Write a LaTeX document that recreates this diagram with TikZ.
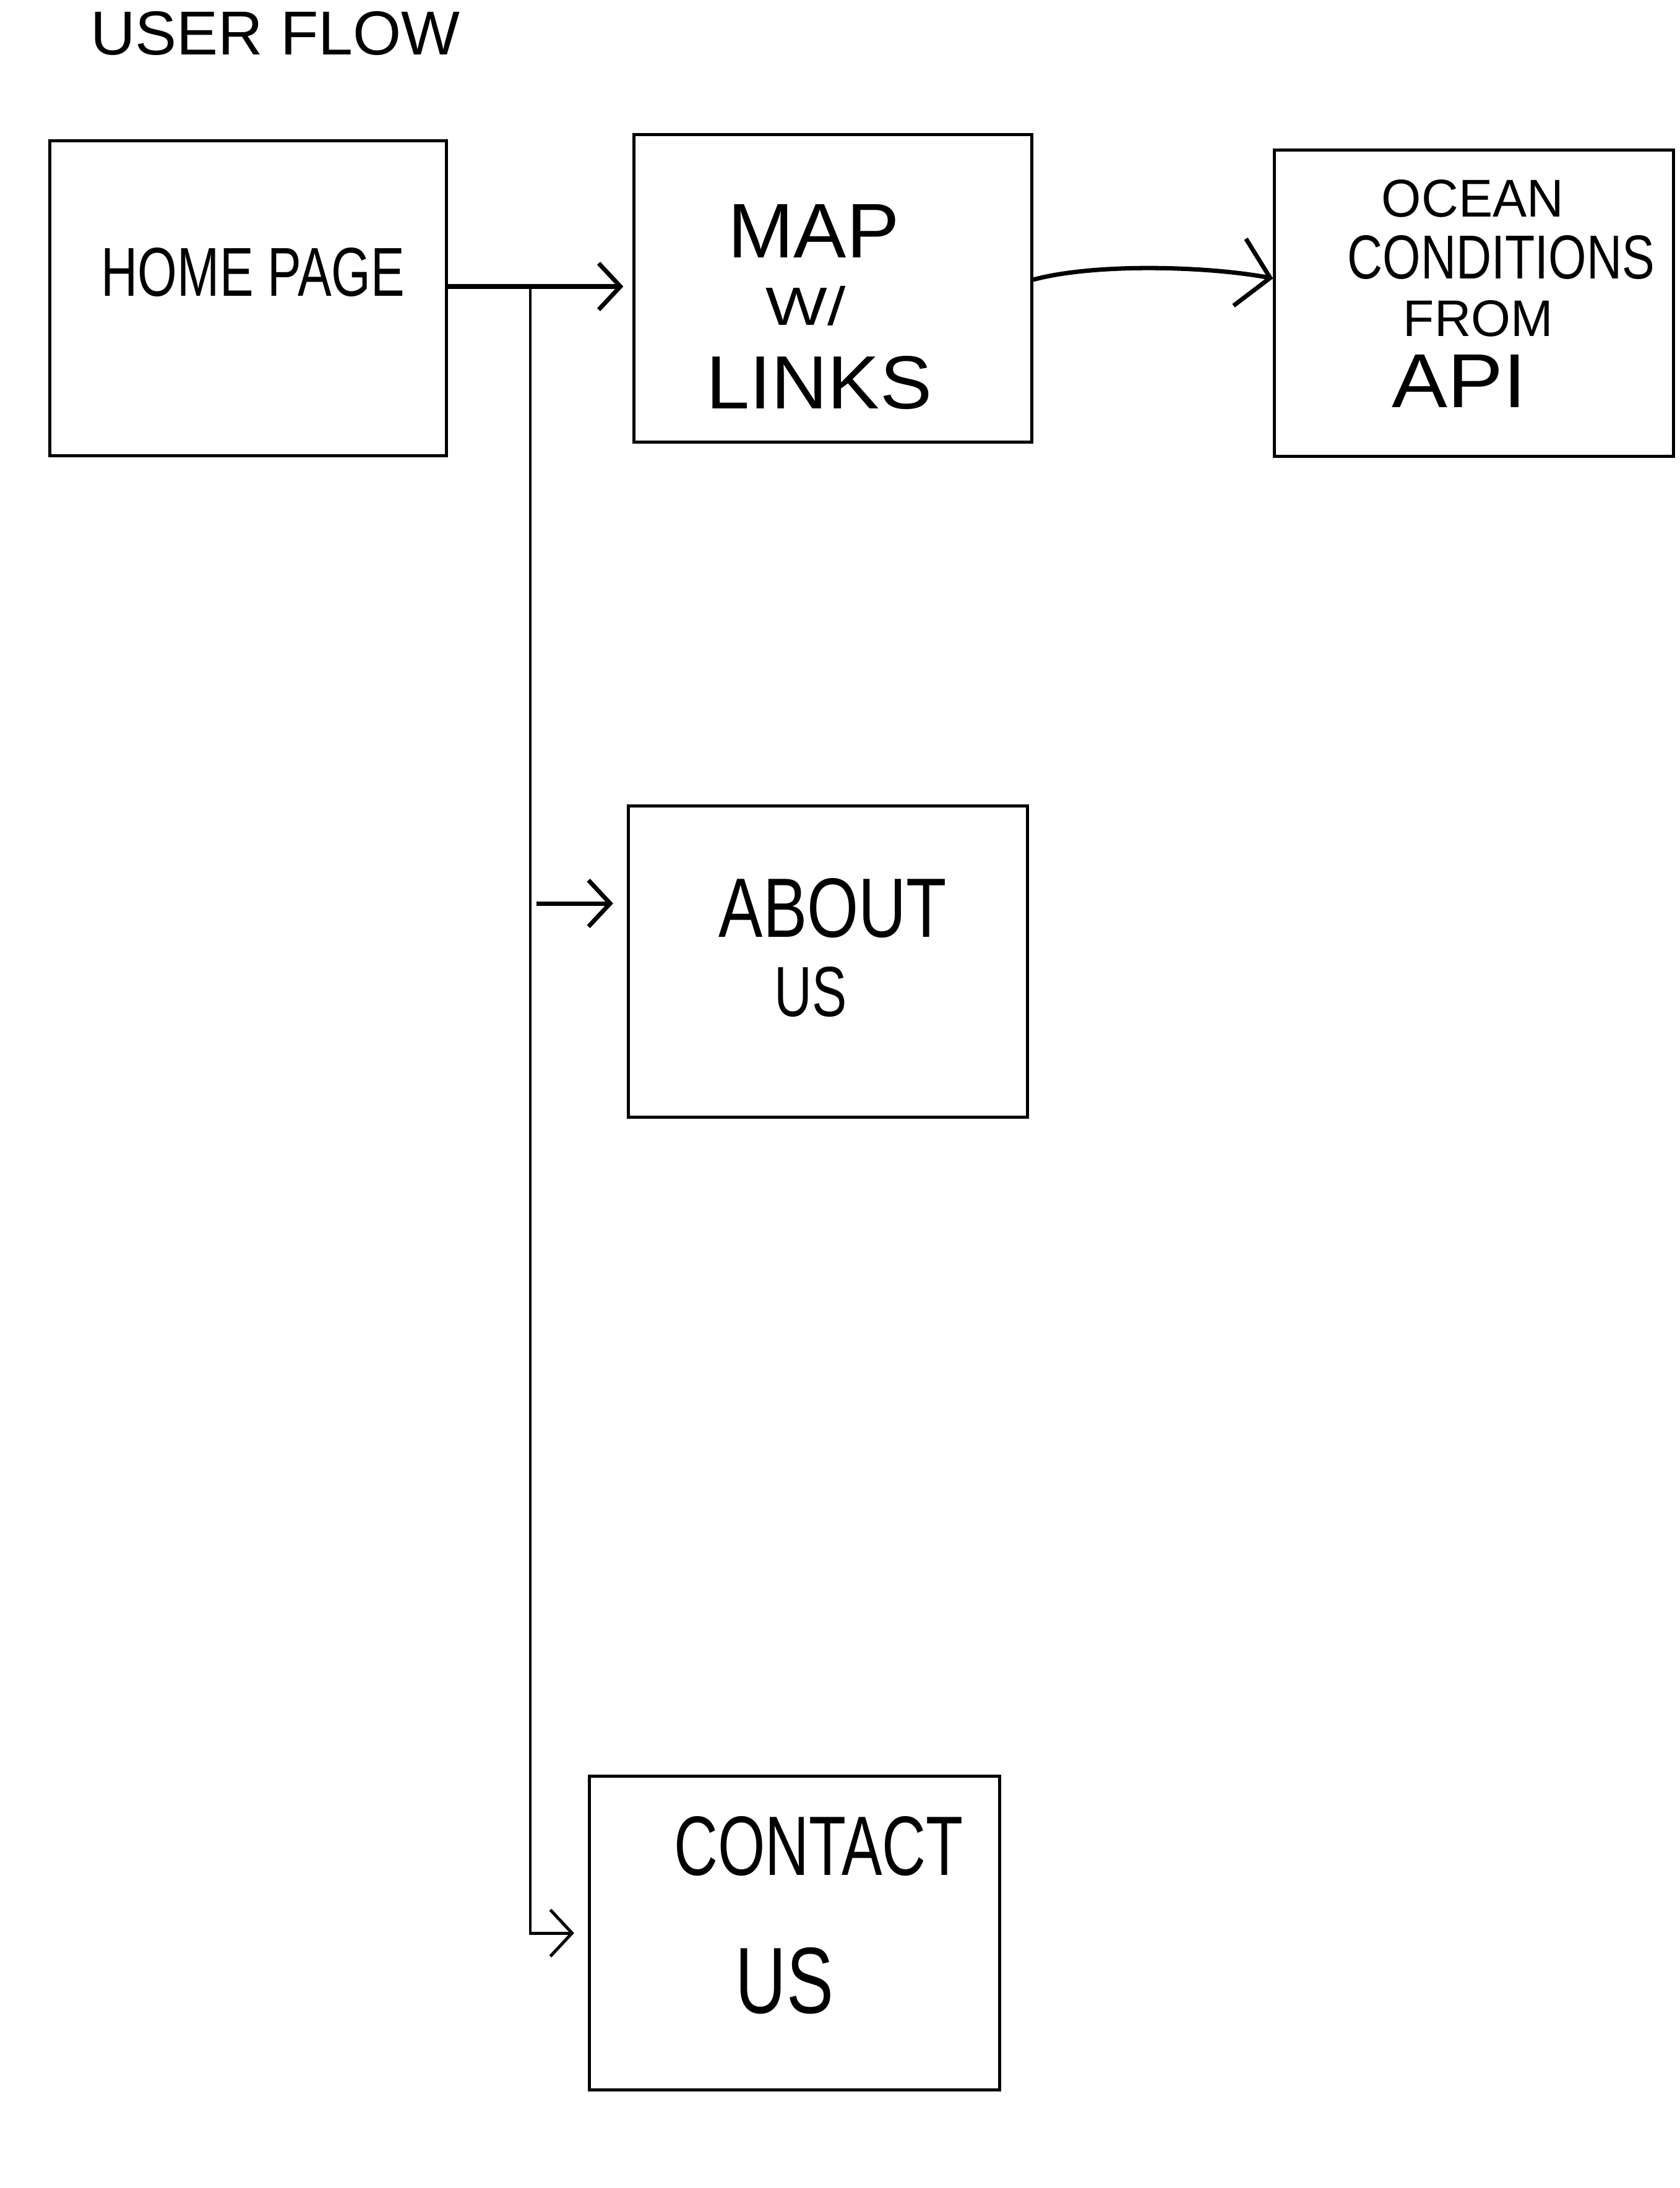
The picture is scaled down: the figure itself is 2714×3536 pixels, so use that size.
\documentclass[tikz,border=0pt]{standalone}
\usepackage{fontspec}
\setmainfont{Liberation Sans}
\usetikzlibrary{arrows.meta}

\begin{document}
\begin{tikzpicture}[x=0.01cm,y=-0.01cm,
  >={Straight Barb[length=0.35cm,width=0.75cm]},
  box/.style={draw,line width=1.4pt,inner sep=0pt},
  txt/.style={anchor=base,inner sep=0pt}]

\useasboundingbox[fill=white] (0,0) rectangle (2714,3536);

% 标题
\node[txt] (title) at (445,88) {\resizebox{5.97cm}{0.7cm}{USER FLOW}};

% 画方框
\node[box,minimum width=6.41cm,minimum height=5.08cm] (home) at (401,482) {};
\node[box,minimum width=6.42cm,minimum height=4.96cm] (map) at (1346,466) {};
\node[box,minimum width=6.44cm,minimum height=4.95cm] (ocean) at (2382,490) {};
\node[box,minimum width=6.45cm,minimum height=5.03cm] (about) at (1338,1554) {};
\node[box,minimum width=6.63cm,minimum height=5.07cm] (contact) at (1284,3124) {};

% 框内文字
\node[txt] (homet) at (409,478) {\resizebox{4.9cm}{0.78cm}{HOME PAGE}};
\node[txt] (mapt1) at (1315,416) {\resizebox{2.77cm}{0.86cm}{MAP}};
\node[txt] (mapt2) at (1302,525) {\resizebox{1.29cm}{0.63cm}{W/}};
\node[txt] (mapt3) at (1324,660) {\resizebox{3.64cm}{0.85cm}{LINKS}};
\node[txt] (oceant1) at (2380,350) {\resizebox{2.94cm}{0.6cm}{OCEAN}};
\node[txt] (oceant2) at (2426,450) {\resizebox{4.96cm}{0.7cm}{CONDITIONS}};
\node[txt] (oceant3) at (2389,543) {\resizebox{2.42cm}{0.58cm}{FROM}};
\node[txt] (oceant4) at (2358,658) {\resizebox{2.17cm}{0.85cm}{API}};
\node[txt] (aboutt1) at (1346,1514) {\resizebox{3.68cm}{0.95cm}{ABOUT}};
\node[txt] (aboutt2) at (1310,1642) {\resizebox{1.17cm}{0.8cm}{US}};
\node[txt] (contactt1) at (1323,3030) {\resizebox{4.67cm}{0.95cm}{CONTACT}};
\node[txt] (contactt2) at (1268,3253) {\resizebox{1.58cm}{1.06cm}{US}};

% 画箭头
\coordinate (fork) at (857,463);
\coordinate (aboutfork) at (867,1460);
\coordinate (mapout) at ([yshift=0.14cm]map.east);
\coordinate (oceanin) at ([yshift=0.4cm]ocean.west);

\draw[->,line width=2pt,shorten >=0.15cm] (home.east |- fork) -- (map.west |- fork);
\draw[->,line width=1.4pt,shorten >=0.22cm] (fork) |- (contact.west);
\draw[->,line width=2pt,shorten >=0.22cm] (aboutfork) -- (aboutfork -| about.west);
\draw[->,line width=2pt,>={Straight Barb[length=0.5cm,width=1.1cm]}] (mapout) .. controls (1770,425) and (1950,430) .. (oceanin);

\end{tikzpicture}
\end{document}
